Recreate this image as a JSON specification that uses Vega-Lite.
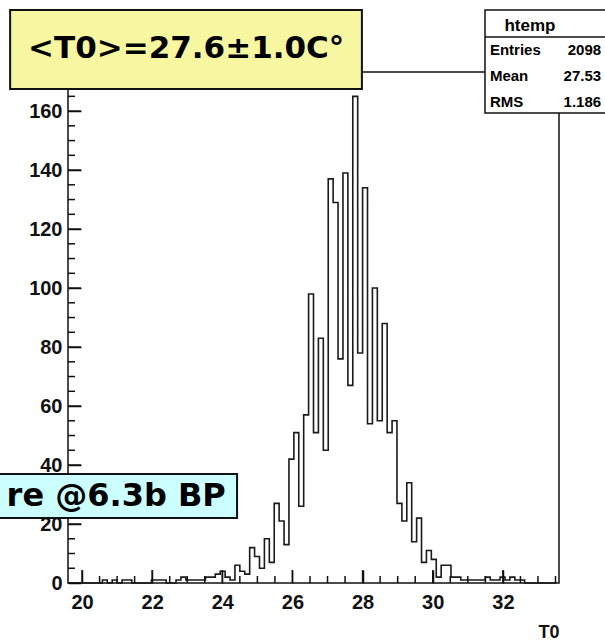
{
  "$schema": "https://vega.github.io/schema/vega-lite/v6.json",
  "width": 491,
  "height": 511,
  "autosize": {"type": "none"},
  "padding": {"left": 68, "top": 72, "right": 46, "bottom": 57},
  "background": "white",
  "config": {
    "view": {"stroke": "#111", "strokeWidth": 1.5},
    "axis": {
      "grid": false,
      "domain": false,
      "labelFont": "Liberation Sans",
      "labelFontWeight": "bold",
      "labelFontSize": 20,
      "labelColor": "#111",
      "tickColor": "#111",
      "tickWidth": 1.5,
      "labelOverlap": false,
      "labelFlush": false,
      "labelBound": false
    }
  },
  "datasets": {
    "hist": [
      {"t0": 19.67, "entries": 0}, {"t0": 19.81, "entries": 0}, {"t0": 19.95, "entries": 0}, {"t0": 20.09, "entries": 0},
      {"t0": 20.23, "entries": 0}, {"t0": 20.37, "entries": 0}, {"t0": 20.51, "entries": 0}, {"t0": 20.65, "entries": 1},
      {"t0": 20.79, "entries": 0}, {"t0": 20.93, "entries": 1}, {"t0": 21.07, "entries": 0}, {"t0": 21.21, "entries": 1},
      {"t0": 21.35, "entries": 1}, {"t0": 21.49, "entries": 0}, {"t0": 21.63, "entries": 0}, {"t0": 21.77, "entries": 0},
      {"t0": 21.91, "entries": 0}, {"t0": 22.05, "entries": 1}, {"t0": 22.19, "entries": 1}, {"t0": 22.33, "entries": 1},
      {"t0": 22.47, "entries": 0}, {"t0": 22.61, "entries": 0}, {"t0": 22.75, "entries": 1}, {"t0": 22.89, "entries": 2},
      {"t0": 23.03, "entries": 1}, {"t0": 23.17, "entries": 1}, {"t0": 23.31, "entries": 1}, {"t0": 23.45, "entries": 1},
      {"t0": 23.59, "entries": 2}, {"t0": 23.73, "entries": 2}, {"t0": 23.87, "entries": 3}, {"t0": 24.01, "entries": 4},
      {"t0": 24.15, "entries": 2}, {"t0": 24.29, "entries": 1}, {"t0": 24.43, "entries": 6}, {"t0": 24.57, "entries": 4},
      {"t0": 24.71, "entries": 3}, {"t0": 24.85, "entries": 12}, {"t0": 24.99, "entries": 9}, {"t0": 25.13, "entries": 5},
      {"t0": 25.27, "entries": 15}, {"t0": 25.41, "entries": 7}, {"t0": 25.55, "entries": 27}, {"t0": 25.69, "entries": 21},
      {"t0": 25.83, "entries": 13}, {"t0": 25.97, "entries": 42}, {"t0": 26.11, "entries": 51}, {"t0": 26.25, "entries": 26},
      {"t0": 26.39, "entries": 57}, {"t0": 26.53, "entries": 98}, {"t0": 26.67, "entries": 51}, {"t0": 26.81, "entries": 83},
      {"t0": 26.95, "entries": 45}, {"t0": 27.09, "entries": 137}, {"t0": 27.23, "entries": 129}, {"t0": 27.37, "entries": 76},
      {"t0": 27.51, "entries": 139}, {"t0": 27.65, "entries": 67}, {"t0": 27.79, "entries": 165}, {"t0": 27.93, "entries": 78},
      {"t0": 28.07, "entries": 134}, {"t0": 28.21, "entries": 54}, {"t0": 28.35, "entries": 100}, {"t0": 28.49, "entries": 55},
      {"t0": 28.63, "entries": 88}, {"t0": 28.77, "entries": 51}, {"t0": 28.91, "entries": 55}, {"t0": 29.05, "entries": 27},
      {"t0": 29.19, "entries": 21}, {"t0": 29.33, "entries": 34}, {"t0": 29.47, "entries": 14}, {"t0": 29.61, "entries": 22},
      {"t0": 29.75, "entries": 7}, {"t0": 29.89, "entries": 11}, {"t0": 30.03, "entries": 8}, {"t0": 30.17, "entries": 2},
      {"t0": 30.31, "entries": 6}, {"t0": 30.45, "entries": 6}, {"t0": 30.59, "entries": 2}, {"t0": 30.73, "entries": 2},
      {"t0": 30.87, "entries": 1}, {"t0": 31.01, "entries": 1}, {"t0": 31.15, "entries": 1}, {"t0": 31.29, "entries": 1},
      {"t0": 31.43, "entries": 1}, {"t0": 31.57, "entries": 2}, {"t0": 31.71, "entries": 1}, {"t0": 31.85, "entries": 1},
      {"t0": 31.99, "entries": 2}, {"t0": 32.13, "entries": 1}, {"t0": 32.27, "entries": 2}, {"t0": 32.41, "entries": 1},
      {"t0": 32.55, "entries": 1}, {"t0": 32.69, "entries": 0}, {"t0": 32.83, "entries": 0}, {"t0": 32.97, "entries": 0},
      {"t0": 33.11, "entries": 0}, {"t0": 33.25, "entries": 0}, {"t0": 33.39, "entries": 0}, {"t0": 33.53, "entries": 0}
    ],
    "xmajor": [{"tick": 20}, {"tick": 22}, {"tick": 24}, {"tick": 26}, {"tick": 28}, {"tick": 30}, {"tick": 32}],
    "xminor": [
      {"tick": 20.5}, {"tick": 21}, {"tick": 21.5}, {"tick": 22.5}, {"tick": 23}, {"tick": 23.5}, {"tick": 24.5},
      {"tick": 25}, {"tick": 25.5}, {"tick": 26.5}, {"tick": 27}, {"tick": 27.5}, {"tick": 28.5}, {"tick": 29},
      {"tick": 29.5}, {"tick": 30.5}, {"tick": 31}, {"tick": 31.5}, {"tick": 32.5}, {"tick": 33}, {"tick": 33.5}
    ],
    "ymajor": [{"tick": 0}, {"tick": 20}, {"tick": 40}, {"tick": 60}, {"tick": 80}, {"tick": 100}, {"tick": 120}, {"tick": 140}, {"tick": 160}],
    "yminor": [
      {"tick": 5}, {"tick": 10}, {"tick": 15}, {"tick": 25}, {"tick": 30}, {"tick": 35}, {"tick": 45}, {"tick": 50},
      {"tick": 55}, {"tick": 65}, {"tick": 70}, {"tick": 75}, {"tick": 85}, {"tick": 90}, {"tick": 95}, {"tick": 105},
      {"tick": 110}, {"tick": 115}, {"tick": 125}, {"tick": 130}, {"tick": 135}, {"tick": 145}, {"tick": 150},
      {"tick": 155}, {"tick": 165}, {"tick": 170}
    ]
  },
  "layer": [
    {
      "data": {"name": "hist"},
      "mark": {"type": "line", "interpolate": "step", "color": "#1a1a1a", "strokeWidth": 1.6, "clip": false},
      "encoding": {
        "x": {
          "field": "t0", "type": "quantitative", "title": "T0",
          "scale": {"domain": [19.6, 33.6], "nice": false, "zero": false},
          "axis": {
            "orient": "bottom", "values": [20, 22, 24, 26, 28, 30, 32],
            "tickSize": 13, "offset": -13, "labelPadding": 9,
            "title": "T0", "titleFont": "Liberation Sans", "titleFontWeight": "bold", "titleFontSize": 18,
            "titleColor": "#111", "titleAnchor": "end", "titleAlign": "right", "titleBaseline": "alphabetic", "titleY": 67
          }
        },
        "y": {
          "field": "entries", "type": "quantitative", "title": null,
          "scale": {"domain": [0, 173.25], "nice": false, "zero": true},
          "axis": {"orient": "left", "values": [0, 20, 40, 60, 80, 100, 120, 140, 160], "tickSize": 13, "offset": -13, "labelPadding": 6, "title": null}
        }
      }
    },
    {
      "data": {"name": "xmajor"},
      "mark": {"type": "tick", "orient": "vertical", "size": 13, "thickness": 1.5, "yOffset": -6.5, "color": "#111", "opacity": 1, "clip": false},
      "encoding": {"x": {"field": "tick", "type": "quantitative", "title": "T0"}, "y": {"datum": 0, "type": "quantitative", "title": null}}
    },
    {
      "data": {"name": "xminor"},
      "mark": {"type": "tick", "orient": "vertical", "size": 7, "thickness": 1.5, "yOffset": -3.5, "color": "#111", "opacity": 1, "clip": false},
      "encoding": {"x": {"field": "tick", "type": "quantitative", "title": "T0"}, "y": {"datum": 0, "type": "quantitative", "title": null}}
    },
    {
      "data": {"name": "ymajor"},
      "mark": {"type": "tick", "orient": "horizontal", "size": 13, "thickness": 1.5, "xOffset": 6.5, "color": "#111", "opacity": 1, "clip": false},
      "encoding": {"y": {"field": "tick", "type": "quantitative", "title": null}, "x": {"datum": 19.6, "type": "quantitative", "title": "T0"}}
    },
    {
      "data": {"name": "yminor"},
      "mark": {"type": "tick", "orient": "horizontal", "size": 7, "thickness": 1.5, "xOffset": 3.5, "color": "#111", "opacity": 1, "clip": false},
      "encoding": {"y": {"field": "tick", "type": "quantitative", "title": null}, "x": {"datum": 19.6, "type": "quantitative", "title": "T0"}}
    },
    {
      "data": {"values": [{"label": "<T0>=27.6±1.0C°"}]},
      "mark": {"type": "rect", "fill": "#f7f7a2", "stroke": "#111", "strokeWidth": 2, "clip": false},
      "encoding": {"x": {"datum": 17.95}, "x2": {"datum": 27.98}, "y": {"datum": 194.3}, "y2": {"datum": 167.5}}
    },
    {
      "data": {"values": [{"label": "<T0>=27.6±1.0C°"}]},
      "mark": {"type": "text", "font": "DejaVu Sans", "fontWeight": "bold", "fontSize": 31, "align": "center", "baseline": "middle", "color": "#000", "clip": false},
      "encoding": {"x": {"datum": 22.97}, "y": {"datum": 180.9}, "text": {"field": "label"}}
    },
    {
      "data": {"values": [{"label": "htemp"}]},
      "mark": {"type": "rect", "fill": "white", "stroke": "#111", "strokeWidth": 1.5, "clip": false},
      "encoding": {"x": {"datum": 31.49}, "x2": {"datum": 35.8}, "y": {"datum": 194.3}, "y2": {"datum": 159.35}}
    },
    {
      "data": {"values": [{"label": "htemp"}]},
      "mark": {"type": "rule", "stroke": "#111", "strokeWidth": 1.5, "clip": false},
      "encoding": {"x": {"datum": 31.49}, "x2": {"datum": 35.8}, "y": {"datum": 185.1}}
    },
    {
      "data": {"values": [{"label": "htemp"}]},
      "mark": {"type": "text", "font": "Liberation Sans", "fontWeight": "bold", "fontSize": 17, "align": "center", "baseline": "alphabetic", "color": "#000", "clip": false},
      "encoding": {"x": {"datum": 32.77}, "y": {"datum": 187.0}, "text": {"field": "label"}}
    },
    {
      "data": {"values": [{"label": "Entries"}]},
      "mark": {"type": "text", "font": "Liberation Sans", "fontWeight": "bold", "fontSize": 15, "align": "left", "baseline": "middle", "color": "#000", "clip": false},
      "encoding": {"x": {"datum": 31.63}, "y": {"datum": 180.7}, "text": {"field": "label"}}
    },
    {
      "data": {"values": [{"label": "2098"}]},
      "mark": {"type": "text", "font": "Liberation Sans", "fontWeight": "bold", "fontSize": 15, "align": "right", "baseline": "middle", "color": "#000", "clip": false},
      "encoding": {"x": {"datum": 34.8}, "y": {"datum": 180.7}, "text": {"field": "label"}}
    },
    {
      "data": {"values": [{"label": "Mean"}]},
      "mark": {"type": "text", "font": "Liberation Sans", "fontWeight": "bold", "fontSize": 15, "align": "left", "baseline": "middle", "color": "#000", "clip": false},
      "encoding": {"x": {"datum": 31.63}, "y": {"datum": 171.9}, "text": {"field": "label"}}
    },
    {
      "data": {"values": [{"label": "27.53"}]},
      "mark": {"type": "text", "font": "Liberation Sans", "fontWeight": "bold", "fontSize": 15, "align": "right", "baseline": "middle", "color": "#000", "clip": false},
      "encoding": {"x": {"datum": 34.8}, "y": {"datum": 171.9}, "text": {"field": "label"}}
    },
    {
      "data": {"values": [{"label": "RMS"}]},
      "mark": {"type": "text", "font": "Liberation Sans", "fontWeight": "bold", "fontSize": 15, "align": "left", "baseline": "middle", "color": "#000", "clip": false},
      "encoding": {"x": {"datum": 31.63}, "y": {"datum": 163.1}, "text": {"field": "label"}}
    },
    {
      "data": {"values": [{"label": "1.186"}]},
      "mark": {"type": "text", "font": "Liberation Sans", "fontWeight": "bold", "fontSize": 15, "align": "right", "baseline": "middle", "color": "#000", "clip": false},
      "encoding": {"x": {"datum": 34.8}, "y": {"datum": 163.1}, "text": {"field": "label"}}
    },
    {
      "data": {"values": [{"label": "re @6.3b BP"}]},
      "mark": {"type": "rect", "fill": "#ccffff", "stroke": "#111", "strokeWidth": 2, "clip": false},
      "encoding": {"x": {"datum": 17.2}, "x2": {"datum": 24.42}, "y": {"datum": 36.96}, "y2": {"datum": 22.04}}
    },
    {
      "data": {"values": [{"label": "re @6.3b BP"}]},
      "mark": {"type": "text", "font": "DejaVu Sans", "fontWeight": "bold", "fontSize": 32, "align": "right", "baseline": "middle", "color": "#000", "clip": false},
      "encoding": {"x": {"datum": 24.1}, "y": {"datum": 29.5}, "text": {"field": "label"}}
    }
  ]
}
